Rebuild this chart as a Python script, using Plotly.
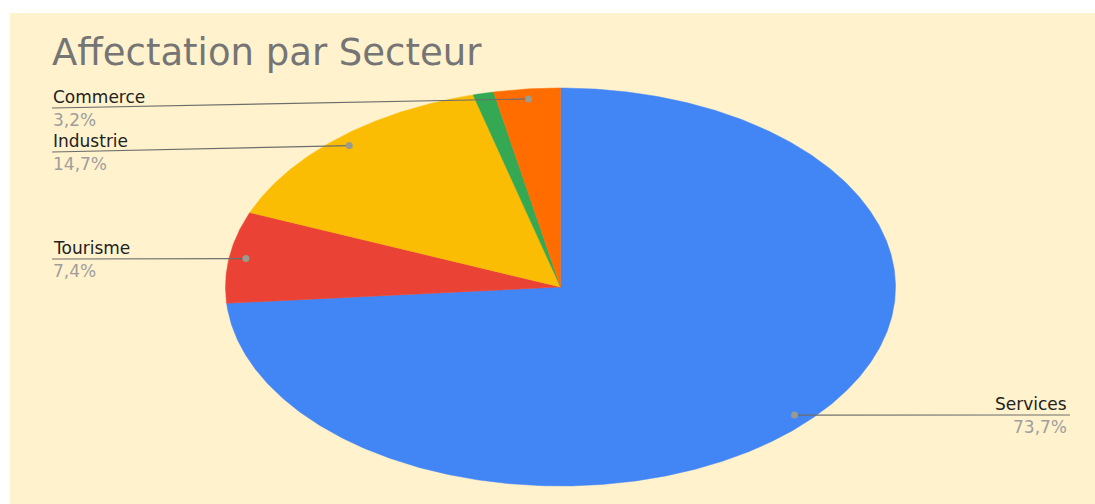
import numpy as np
import plotly.graph_objects as go

# Data
secteurs = ["Services", "Tourisme", "Industrie", "Agriculture", "Commerce"]
parts = [73.7, 7.4, 14.7, 1.0, 3.2]
couleurs = ["#4285F4", "#EA4335", "#FBBC04", "#34A853", "#FF6D01"]

# Label placement (Google Sheets style callouts): side and leader line height (px)
label_side = {"Services": "right", "Tourisme": "left", "Industrie": "left", "Commerce": "left"}
label_line_y = {"Services": 415, "Tourisme": 259, "Industrie": 152, "Commerce": 108}

# Page geometry (axes are set up in page pixels)
W, H = 1095, 504
left, top = 10, 13
cx, cy = 560.5, 287.0
rx, ry = 335.0, 199.0
label_x_left, label_x_right = 52, 1070

bg = "#FFF2CC"
font_name = "DejaVu Sans"

fig = go.Figure()

total = sum(parts)
start = 0.0
mids = []
for name, val, col in zip(secteurs, parts, couleurs):
    a0 = start / total * 2 * np.pi
    a1 = (start + val) / total * 2 * np.pi
    start += val
    n = max(3, int(np.degrees(a1 - a0) * 2))
    th = np.linspace(a0, a1, n)
    xs = np.concatenate([[cx], cx + rx * np.sin(th), [cx]])
    ys = np.concatenate([[cy], cy - ry * np.cos(th), [cy]])
    fig.add_trace(go.Scatter(
        x=xs, y=ys, mode="lines", fill="toself", fillcolor=col,
        line=dict(color=col, width=0.5), hoverinfo="text",
        text=name + " " + f"{val / total * 100:.1f}".replace(".", ",") + "%",
        showlegend=False,
    ))
    mids.append((a0 + a1) / 2)

annotations = []
for name, val, mid in zip(secteurs, parts, mids):
    if name not in label_side:
        continue
    dx = cx + 0.95 * rx * np.sin(mid)
    dy = cy - 0.95 * ry * np.cos(mid)
    ly = label_line_y[name]
    side = label_side[name]
    lx = label_x_left if side == "left" else label_x_right
    fig.add_trace(go.Scatter(
        x=[lx, dx], y=[ly, dy], mode="lines",
        line=dict(color="#6d6d6d", width=1.2),
        hoverinfo="skip", showlegend=False,
    ))
    fig.add_trace(go.Scatter(
        x=[dx], y=[dy], mode="markers",
        marker=dict(color="#9a9a8e", size=7),
        hoverinfo="skip", showlegend=False,
    ))
    anchor = "left" if side == "left" else "right"
    tx = lx if side == "left" else lx - 2
    pct = f"{val / total * 100:.1f}".replace(".", ",") + "%"
    annotations.append(dict(
        x=tx, y=ly - 11, xref="x", yref="y", text=name, showarrow=False,
        xanchor=anchor, yanchor="middle", borderpad=0,
        font=dict(family=font_name, size=17, color="#222222"),
    ))
    annotations.append(dict(
        x=tx, y=ly + 12, xref="x", yref="y", text=pct, showarrow=False,
        xanchor=anchor, yanchor="middle", borderpad=0,
        font=dict(family=font_name, size=17, color="#9e9e9e"),
    ))

fig.update_layout(
    width=W, height=H,
    margin=dict(l=left, t=top, r=0, b=0, pad=0),
    paper_bgcolor="white",
    plot_bgcolor=bg,
    title=dict(
        text="Affectation par Secteur",
        x=label_x_left / W, xanchor="left",
        y=1 - 52 / H, yanchor="middle",
        font=dict(family=font_name, size=37, color="#757575"),
    ),
    xaxis=dict(range=[left, W], visible=False, fixedrange=True),
    yaxis=dict(range=[H, top], visible=False, fixedrange=True),
    annotations=annotations,
    showlegend=False,
)

fig.write_html("out.html", config={"displayModeBar": False},
               post_script="document.body.style.margin='0';")
